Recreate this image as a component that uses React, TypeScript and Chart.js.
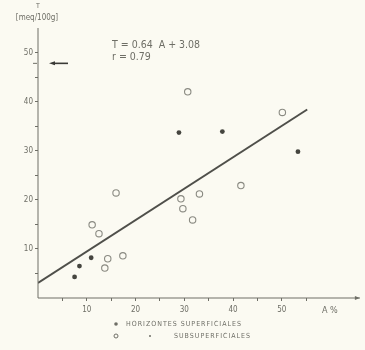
import React, { useEffect, useRef } from "react";
import { Chart, registerables } from "chart.js";
Chart.register(...registerables);

// Horizontes superficiales (filled)
const supA = [7.5, 8.5, 10.9, 28.9, 37.8, 53.3];
const supT = [4.3, 6.5, 8.2, 33.7, 33.9, 29.8];
// Subsuperficiales (open)
const subA = [11.1, 12.5, 14.3, 13.7, 17.4, 16.0, 30.7, 50.1, 41.6, 29.3, 33.1, 29.7, 31.7];
const subT = [14.9, 13.1, 8.0, 6.1, 8.6, 21.4, 42.0, 37.8, 22.9, 20.2, 21.2, 18.2, 15.9];
// Regression line endpoints T = 0.64 A + 3.08
const lineA = [0, 55.2];
const lineT = [3.08, 38.4];
const xTickLabels = ["10", "20", "30", "40", "50"];
const yTickLabels = ["10", "20", "30", "40", "50"];
const equationText = "T = 0.64  A + 3.08";
const rText = "r = 0.79";
const legendLine1 = "HORIZONTES SUPERFICIALES";
const legendLine2 = "SUBSUPERFICIALES";
const markedT = 47.8;

const INK = "#6e6e66";
const FONT = "'DejaVu Sans Condensed', 'DejaVu Sans', sans-serif";

export default function App() {
  const ref = useRef<HTMLCanvasElement>(null);
  useEffect(() => {
    if (!ref.current) return;
    const annot = {
      id: "annot",
      afterDraw(chart: any) {
        const ctx = chart.ctx;
        const ys = chart.scales.y;
        const ca = chart.chartArea;
        ctx.save();
        ctx.fillStyle = INK;
        ctx.strokeStyle = INK;
        // axes lines
        ctx.lineWidth = 1;
        ctx.beginPath();
        ctx.moveTo(ca.left, ca.top);
        ctx.lineTo(ca.left, ca.bottom);
        ctx.lineTo(ca.right, ca.bottom);
        ctx.stroke();
        // arrowhead at x axis end
        ctx.beginPath();
        ctx.moveTo(ca.right, ca.bottom);
        ctx.lineTo(ca.right - 5, ca.bottom - 2);
        ctx.lineTo(ca.right - 5, ca.bottom + 2);
        ctx.closePath();
        ctx.fill();
        // top label
        ctx.font = `7px ${FONT}`;
        ctx.textAlign = "center";
        ctx.textBaseline = "middle";
        ctx.fillText("T", ca.left, 6);
        ctx.font = `8px ${FONT}`;
        ctx.fillText("[meq/100g]", 37, 18);
        // equation
        ctx.font = `10.5px ${FONT}`;
        ctx.textAlign = "left";
        ctx.fillText(equationText, 112, 45);
        ctx.fillText(rText, 112, 57);
        // x axis title
        ctx.font = `9px ${FONT}`;
        ctx.fillText("A %", 322, 311);
        // marker arrow
        const ym = ys.getPixelForValue(markedT);
        ctx.lineWidth = 1;
        ctx.beginPath();
        ctx.moveTo(ca.left - 5, ym);
        ctx.lineTo(ca.left - 1, ym);
        ctx.stroke();
        ctx.strokeStyle = "#3a3a36";
        ctx.fillStyle = "#3a3a36";
        ctx.lineWidth = 1.6;
        ctx.beginPath();
        ctx.moveTo(53, ym);
        ctx.lineTo(68, ym);
        ctx.stroke();
        ctx.beginPath();
        ctx.moveTo(49, ym);
        ctx.lineTo(55, ym - 2);
        ctx.lineTo(55, ym + 2);
        ctx.closePath();
        ctx.fill();
        // legend
        ctx.fillStyle = INK;
        ctx.strokeStyle = INK;
        ctx.font = `7px ${FONT}`;
        ctx.textBaseline = "middle";
        (ctx as any).letterSpacing = "1px";
        ctx.beginPath();
        ctx.arc(116, 324, 1.8, 0, Math.PI * 2);
        ctx.fill();
        ctx.fillText(legendLine1, 126, 324);
        ctx.lineWidth = 1;
        ctx.beginPath();
        ctx.arc(116, 336, 2, 0, Math.PI * 2);
        ctx.stroke();
        ctx.beginPath();
        ctx.arc(150, 336, 1, 0, Math.PI * 2);
        ctx.fill();
        ctx.fillText(legendLine2, 174, 336);
        ctx.restore();
      },
    };
    const chart = new Chart(ref.current, {
      type: "scatter",
      data: {
        datasets: [
          {
            type: "line",
            data: lineA.map((a, i) => ({ x: a, y: lineT[i] })),
            borderColor: "#4f4f4a",
            borderWidth: 2,
            pointRadius: 0,
            fill: false,
          } as any,
          {
            data: supA.map((a, i) => ({ x: a, y: supT[i] })),
            pointRadius: 2.4,
            backgroundColor: "#45453f",
            borderColor: "#45453f",
            borderWidth: 0,
          },
          {
            data: subA.map((a, i) => ({ x: a, y: subT[i] })),
            pointRadius: 3.2,
            backgroundColor: "rgba(0,0,0,0)",
            borderColor: "#8a8a82",
            borderWidth: 1.1,
          },
        ],
      },
      plugins: [annot],
      options: {
        animation: false,
        responsive: false,
        maintainAspectRatio: false,
        layout: { padding: { top: 28, right: 0, left: 0, bottom: 0 } },
        plugins: { legend: { display: false }, tooltip: { enabled: false } },
        scales: {
          x: {
            type: "linear",
            min: 0,
            max: 66,
            border: { display: false },
            grid: { drawOnChartArea: false, drawTicks: true, tickLength: 3, color: INK },
            afterBuildTicks: (s: any) => {
              s.ticks = [5, 10, 15, 20, 25, 30, 35, 40, 45, 50, 55].map((v) => ({ value: v }));
            },
            afterFit: (s: any) => { s.height = 52; },
            ticks: {
              color: INK,
              font: { size: 8, family: FONT },
              padding: 4,
              autoSkip: false,
              maxRotation: 0,
              callback: (v: any) => (v % 10 === 0 ? xTickLabels[v / 10 - 1] : ""),
            },
          },
          y: {
            type: "linear",
            min: 0,
            max: 55,
            border: { display: false },
            grid: { drawOnChartArea: false, drawTicks: true, tickLength: 3, color: INK },
            afterBuildTicks: (s: any) => {
              s.ticks = [5, 10, 15, 20, 25, 30, 35, 40, 45, 50].map((v) => ({ value: v }));
            },
            afterFit: (s: any) => { s.width = 38; },
            ticks: {
              color: INK,
              font: { size: 8, family: FONT },
              padding: 2,
              autoSkip: false,
              callback: (v: any) => (v % 10 === 0 ? yTickLabels[v / 10 - 1] : ""),
            },
          },
        },
      },
    });
    return () => chart.destroy();
  }, []);
  return (
    <div style={{ position: "fixed", left: 0, top: 0, width: 365, height: 350, background: "#fbfaf2" }}>
      <canvas ref={ref} width={365} height={350} style={{ width: 365, height: 350, display: "block" }} />
    </div>
  );
}
